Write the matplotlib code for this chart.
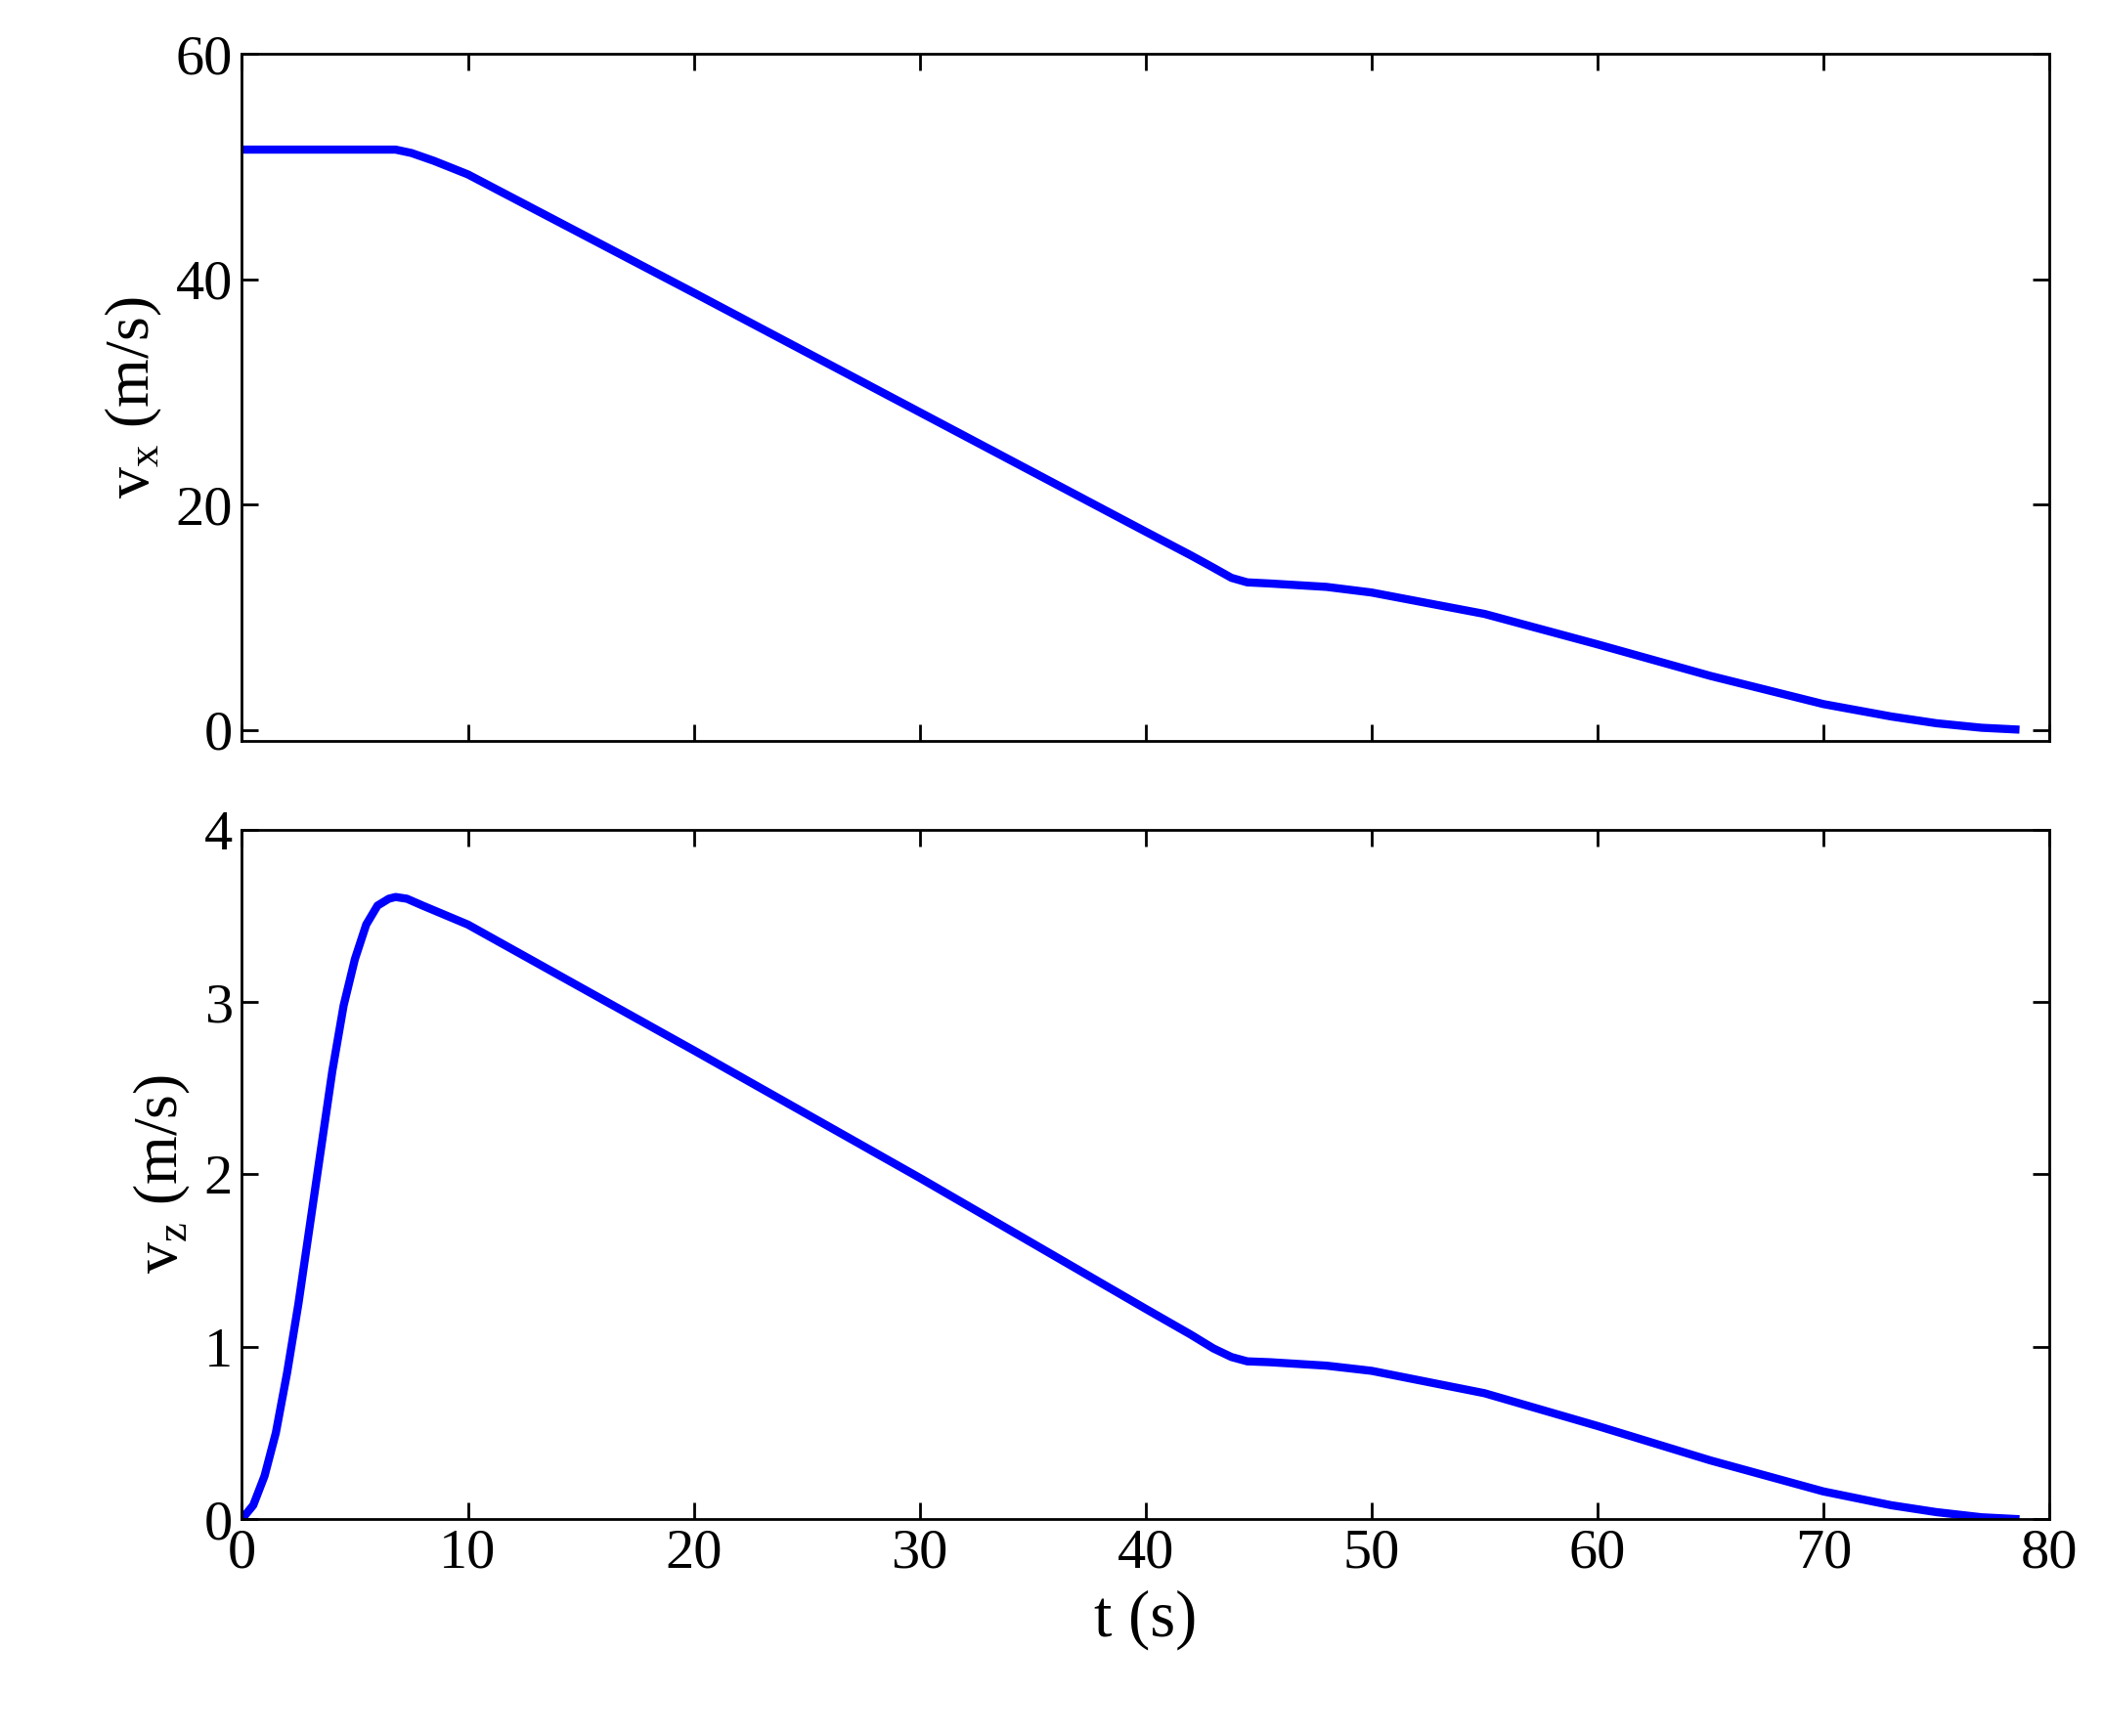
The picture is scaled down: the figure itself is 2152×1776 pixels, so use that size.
import matplotlib
matplotlib.use("Agg")
import matplotlib.pyplot as plt

t_x = [0, 2, 4, 6, 6.8, 7.5, 8.5, 10, 20, 30, 40, 42, 43, 43.8, 44.5, 45.5, 48, 50, 55, 60, 65, 70, 73, 75, 77, 78.5]
v_x = [51.5, 51.5, 51.5, 51.5, 51.5, 51.2, 50.5, 49.3, 38.8, 28.2, 17.6, 15.5, 14.4, 13.5, 13.1, 13.0, 12.7, 12.2, 10.3, 7.6, 4.8, 2.3, 1.2, 0.6, 0.2, 0.05]
t_z = [0, 0.5, 1, 1.5, 2, 2.5, 3, 3.5, 4, 4.5, 5, 5.5, 6, 6.5, 6.8, 7.3, 8, 10, 20, 30, 40, 42, 43, 43.8, 44.5, 45.5, 48, 50, 55, 60, 65, 70, 73, 75, 77, 78.5]
v_z = [0, 0.08, 0.25, 0.5, 0.85, 1.25, 1.7, 2.15, 2.6, 2.98, 3.25, 3.45, 3.56, 3.6, 3.61, 3.6, 3.56, 3.45, 2.72, 1.98, 1.22, 1.07, 0.99, 0.94, 0.915, 0.91, 0.89, 0.86, 0.73, 0.54, 0.34, 0.16, 0.08, 0.04, 0.01, 0.0]

plt.rcParams['font.family'] = ['Liberation Serif']
fig = plt.figure(figsize=(10.76, 8.88), dpi=200)
ax1 = fig.add_axes([0.115, 0.573, 0.859, 0.396])
ax2 = fig.add_axes([0.115, 0.125, 0.859, 0.397])
for ax in (ax1, ax2):
    ax.tick_params(direction='in', top=True, right=True, labelsize=21, length=6, width=1)
    for s in ax.spines.values():
        s.set_linewidth(1)
    ax.set_xlim(0, 80)
    ax.set_xticks(range(0, 81, 10))
ax1.plot(t_x, v_x, color='#0000ff', lw=3)
ax1.set_ylim(-1, 60)
ax1.set_yticks([0, 20, 40, 60])
ax1.set_xticklabels([])
ax1.set_ylabel(r'v$_\mathregular{x}$ (m/s)', fontsize=23)
ax2.plot(t_z, v_z, color='#0000ff', lw=3)
ax2.set_ylim(0, 4)
ax2.set_yticks([0, 1, 2, 3, 4])
ax2.set_ylabel(r'v$_\mathregular{z}$ (m/s)', fontsize=23)
ax2.set_xlabel('t (s)', fontsize=24)
fig.savefig('out.png')
